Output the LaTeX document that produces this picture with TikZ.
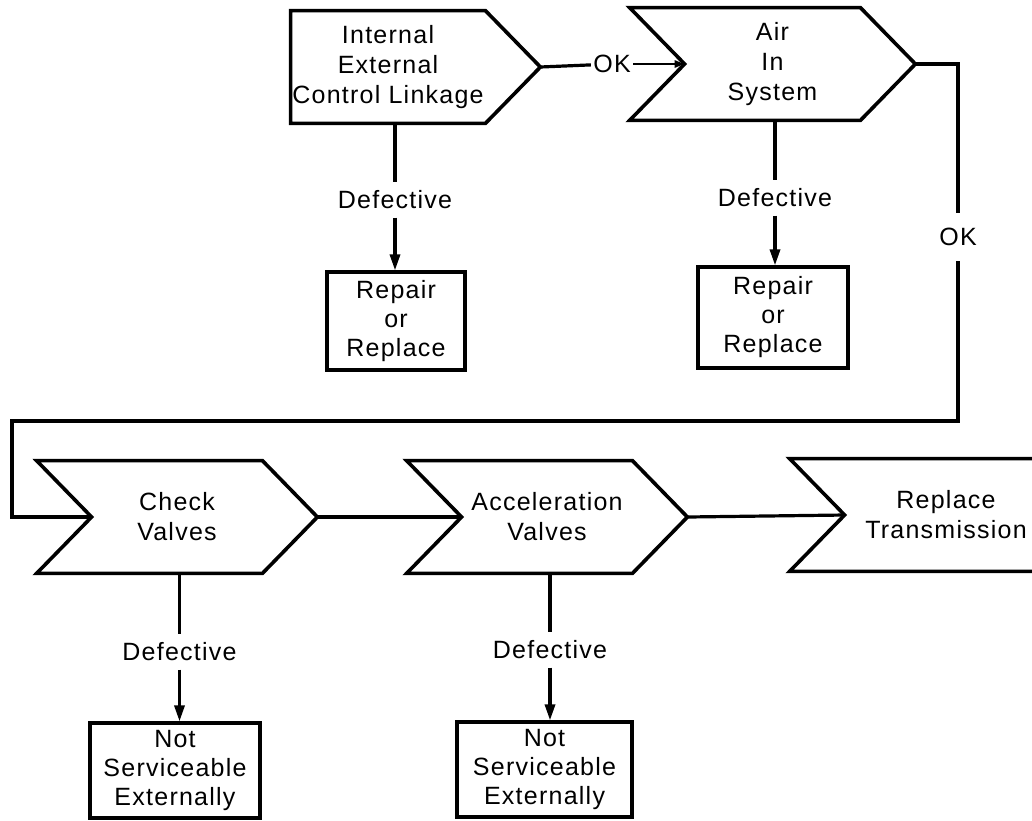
\documentclass[tikz,border=0pt]{standalone}
\usepackage{fontspec}
\setmainfont[LetterSpace=5]{Liberation Sans}
\usepackage{tikz}
\usetikzlibrary{calc,arrows.meta}
\tikzset{
 ts step/.style={minimum height=56pt,inner sep=0pt,align=center,
                 font=\fontsize{12.5pt}{15pt}\selectfont},
 ts box/.style={draw,line width=1.6pt,inner sep=0pt,align=center,
                font=\fontsize{12.5pt}{14.5pt}\selectfont},
 ts outline/.style={line width=1.8pt,line join=miter},
 ts line/.style={line width=1.6pt,line join=miter},
 ts arrow/.style={line width=1.6pt,-{Triangle[length=8pt,width=5pt]}},
 ts ok arrow/.style={line width=1.4pt,-{Triangle[length=5pt,width=3.5pt]}},
 ts label/.style={inner xsep=1pt,inner ysep=4pt,
                  font=\fontsize{12.5pt}{15pt}\selectfont}
}
\begin{document}
\begin{tikzpicture}[x=0.5pt,y=-0.5pt]
 \clip (0,0) rectangle (1032,820);
 % steps
 \node[ts step,minimum width=97pt]   (link)  at (388,67)   {Internal\\External\\Control Linkage};
 \node[ts step,minimum width=87.5pt] (air)   at (772.5,64) {Air\\In\\System};
 \node[ts step,minimum width=85pt]   (check) at (177,517)  {Check\\Valves};
 \node[ts step,minimum width=85pt]   (accel) at (547,517)  {Acceleration\\Valves};
 \node[ts step,minimum width=101pt]  (repl)  at (946,515)  {Replace\\Transmission};
 \coordinate (link tip)  at ($(link.east)+(55,0)$);
 \coordinate (air tip)   at ($(air.east)+(55,0)$);
 \coordinate (check tip) at ($(check.east)+(55,0)$);
 \coordinate (accel tip) at ($(accel.east)+(55,0)$);
 \coordinate (repl tip)  at ($(repl.east)+(55,0)$);
 \foreach \n/\k in {link/0,air/1,check/1,accel/1,repl/1}{
   \draw[ts outline] ($(\n.north west)+(-\k*55,0)$) -- (\n.north east)
     -- ($(\n.east)+(55,0)$) -- (\n.south east)
     -- ($(\n.south west)+(-\k*55,0)$) -- (\n.west) -- cycle;
 }
 % results
 \node[ts box,minimum width=69pt,minimum height=49pt]   (rep1) at (396,321)     {Repair\\or\\Replace};
 \node[ts box,minimum width=75pt,minimum height=50.5pt] (rep2) at (773,317.5)   {Repair\\or\\Replace};
 \node[ts box,minimum width=85pt,minimum height=47.5pt] (ns1)  at (175,770.5)   {Not\\Serviceable\\Externally};
 \node[ts box,minimum width=87.5pt,minimum height=47.5pt] (ns2) at (544.5,769.5) {Not\\Serviceable\\Externally};
 % labels
 \node[ts label] (def1) at (395,200)   {Defective};
 \node[ts label] (def2) at (775,198)   {Defective};
 \node[ts label] (def3) at (179.5,652) {Defective};
 \node[ts label] (def4) at (550,650)   {Defective};
 \node[ts label] (ok1)  at (612,64)    {OK};
 \node[ts label,inner ysep=7.5pt] (ok2) at (958,237) {OK};
 \coordinate (loop) at (12,421);
 % connectors
 \draw[ts line] (link tip) -- (ok1);
 \draw[ts ok arrow] (ok1) -- (air.west);
 \draw[ts line] (air tip) -| (ok2);
 \draw[ts line] (ok2) |- (loop) |- (check.west);
 \draw[ts line] (check tip) -- (accel.west);
 \draw[ts line] (accel tip) -- (repl.west);
 \foreach \s/\d/\r in {link/def1/rep1,air/def2/rep2,check/def3/ns1,accel/def4/ns2}{
   \draw[ts line] (\s.south -| \d) -- (\d);
   \draw[ts arrow] (\d) -- (\d |- \r.north);
 }
\end{tikzpicture}
\end{document}
